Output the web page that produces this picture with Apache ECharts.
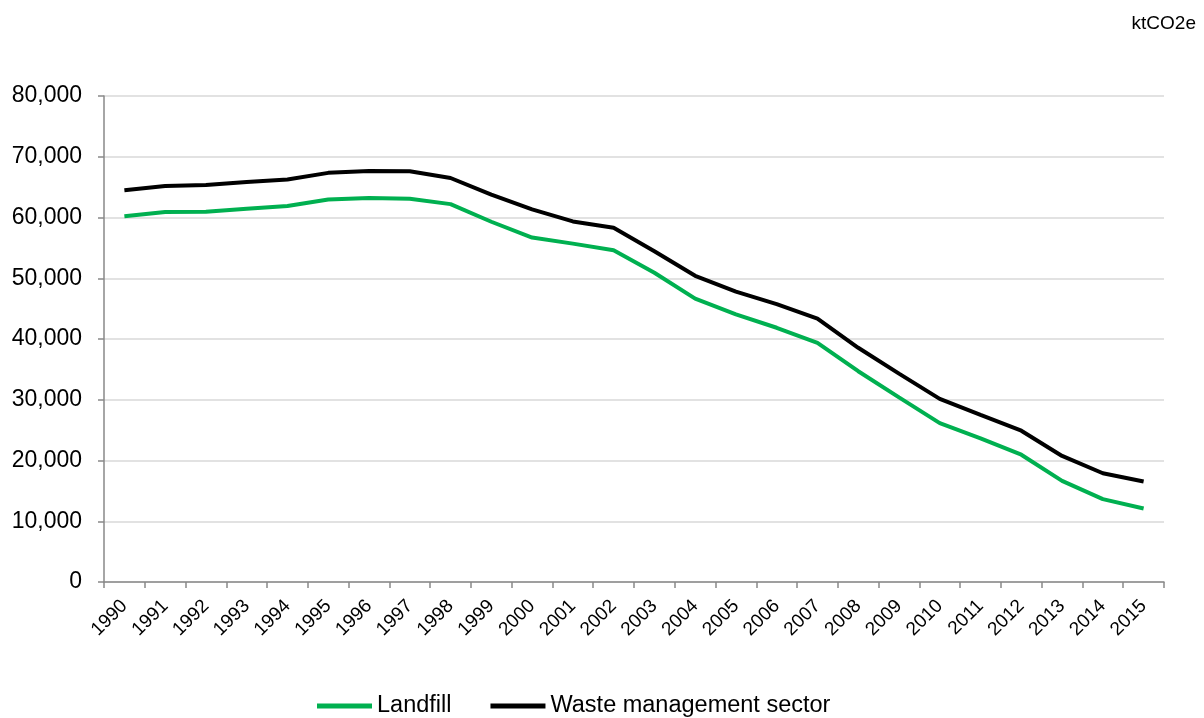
<!DOCTYPE html>
<html><head><meta charset="utf-8">
<script src="https://cdn.jsdelivr.net/npm/echarts@6/dist/echarts.min.js"></script>
<style>html,body{margin:0;padding:0;background:#fff}#c{width:1204px;height:718px}</style>
</head><body><div id="c"></div>
<script>
const years = ['1990','1991','1992','1993','1994','1995','1996','1997','1998','1999','2000','2001','2002','2003','2004','2005','2006','2007','2008','2009','2010','2011','2012','2013','2014','2015'];
const landfill = [60200,60900,60950,61450,61880,62950,63200,63100,62200,59300,56700,55700,54600,50900,46650,44050,41850,39350,34700,30400,26150,23650,20950,16650,13650,12100];
const wasteSector = [64500,65200,65350,65850,66250,67350,67650,67600,66500,63750,61350,59350,58300,54450,50400,47800,45750,43350,38550,34300,30150,27500,24900,20750,17900,16550];
const yTicks = {min:0, max:80000, interval:10000};
const unitLabel = 'ktCO2e';

const chart = echarts.init(document.getElementById('c'), null, {renderer:'canvas'});
const font = 'Liberation Sans, Arial, sans-serif';
chart.setOption({
  animation:false,
  backgroundColor:'#fff',
  textStyle:{fontFamily:font},
  title:{text:unitLabel, right:3, top:9, textStyle:{fontFamily:font, fontSize:19, fontWeight:'normal', color:'#000'}},
  grid:{left:104, right:40, top:96, bottom:136, containLabel:false},
  legend:{
    left:312, top:689,
    itemWidth:55, itemHeight:5, itemGap:39, icon:'rect',
    textStyle:{fontFamily:font, fontSize:23.5, color:'#000', padding:[0,0,0,0]},
    data:['Landfill','Waste management sector']
  },
  xAxis:{
    type:'category', data:years, boundaryGap:true,
    axisLine:{lineStyle:{color:'#898989', width:1.5}},
    axisTick:{show:true, length:6, lineStyle:{color:'#898989', width:1.5}},
    axisLabel:{rotate:45, fontFamily:font, fontSize:19, color:'#000', margin:21, interval:0}
  },
  yAxis:{
    type:'value', min:yTicks.min, max:yTicks.max, interval:yTicks.interval,
    axisLine:{show:true, lineStyle:{color:'#898989', width:1.5}},
    axisTick:{show:true, length:6, lineStyle:{color:'#898989', width:1.5}},
    splitLine:{lineStyle:{color:'#d9d9d9', width:1.5}},
    axisLabel:{fontFamily:font, fontSize:23, color:'#000', margin:22,
      formatter:v=>v.toLocaleString('en-US')}
  },
  series:[
    {name:'Landfill', type:'line', data:landfill, symbol:'none', smooth:false,
     lineStyle:{color:'#00B050', width:4}, itemStyle:{color:'#00B050'}},
    {name:'Waste management sector', type:'line', data:wasteSector, symbol:'none', smooth:false,
     lineStyle:{color:'#000000', width:4}, itemStyle:{color:'#000000'}}
  ]
});
</script></body></html>
